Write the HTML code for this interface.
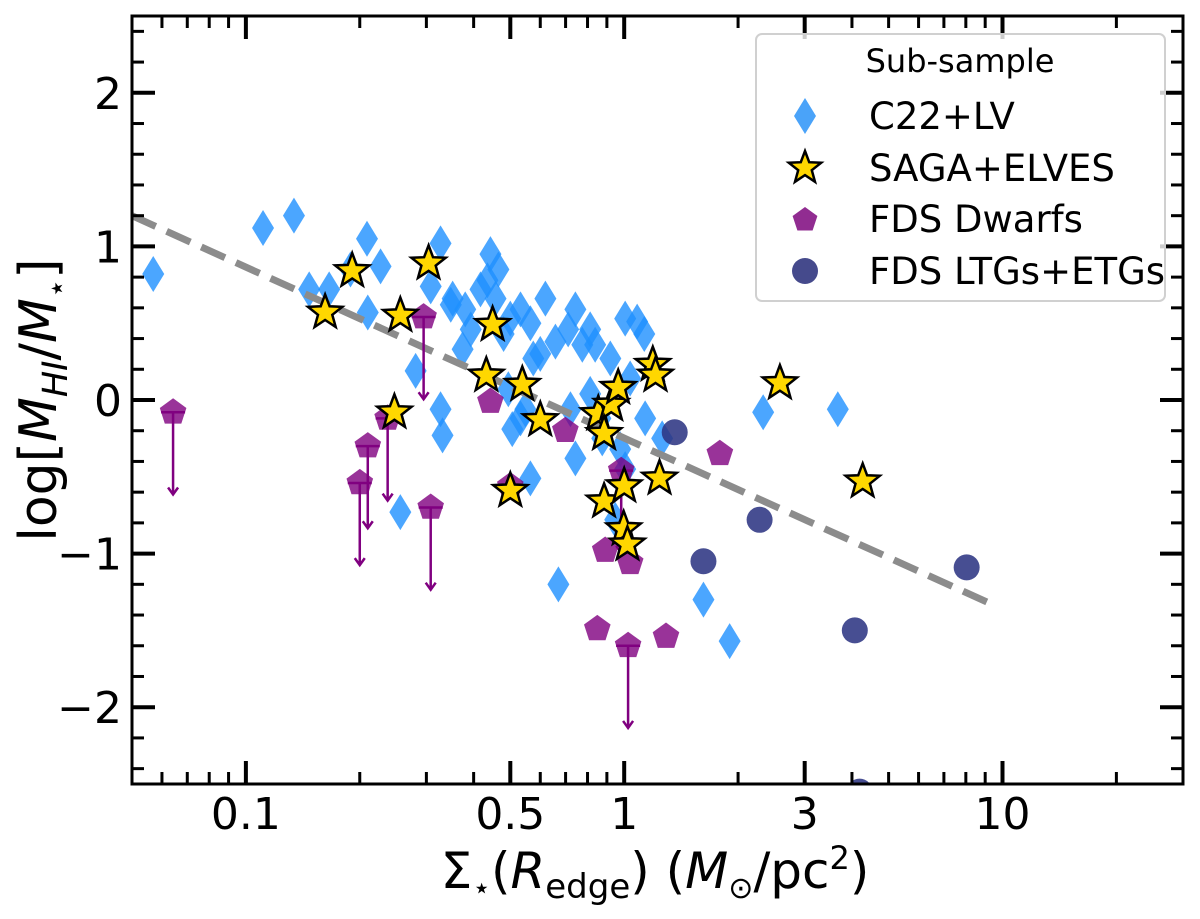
<!DOCTYPE html>
<html><head><meta charset="utf-8"><style>
html,body{margin:0;padding:0;background:#fff;}
svg{display:block;font-family:"DejaVu Sans","Liberation Sans",sans-serif;}
</style></head><body>
<svg id="chart" width="1200" height="919" viewBox="0 0 1200 919" xmlns="http://www.w3.org/2000/svg">
<defs><clipPath id="clip"><rect x="132" y="16" width="1051" height="768"/></clipPath></defs>
<g id="marks" clip-path="url(#clip)"></g>
<g id="axes"></g>
<g id="legend">
  <rect x="756" y="34" width="409" height="267" rx="6" fill="#fff" fill-opacity="0.8" stroke="#d0d0d0" stroke-width="2"/>
  <text x="960" y="72" font-size="32" text-anchor="middle">Sub-sample</text>
  <polygon points="805,98 816,116 805,134 794,116" fill="#4aa3f9"/>
  <text x="869" y="129" font-size="37">C22+LV</text>
  <polygon id="lgstar" fill="#FFD700" stroke="#000" stroke-width="2.5"/>
  <text x="869" y="181" font-size="37">SAGA+ELVES</text>
  <polygon id="lgpent" fill="#912c91"/>
  <text x="869" y="232" font-size="37">FDS Dwarfs</text>
  <circle cx="805" cy="271" r="13" fill="#454a8c"/>
  <text x="869" y="284" font-size="37">FDS LTGs+ETGs</text>
</g>
<text x="0" y="0" transform="translate(56,400) rotate(-90)" font-size="52" text-anchor="middle">log[<tspan font-style="italic">M</tspan><tspan font-size="35" dy="11" font-style="italic">HI</tspan><tspan dy="-11">/</tspan><tspan font-style="italic">M</tspan><tspan font-size="31" dy="11">⋆</tspan><tspan dy="-11">]</tspan></text>
<text x="655" y="888" font-size="50" text-anchor="middle">Σ<tspan font-size="30" dy="10">⋆</tspan><tspan dy="-10">(</tspan><tspan font-style="italic">R</tspan><tspan font-size="34" dy="10">edge</tspan><tspan dy="-10">) (</tspan><tspan font-style="italic">M</tspan><tspan font-size="30" dy="10">⊙</tspan><tspan dy="-10">/pc</tspan><tspan font-size="32" dy="-19">2</tspan><tspan dy="19">)</tspan></text>
</svg>
<script>
const diamondX=[0.0569,0.111,0.134,0.147,0.166,0.189,0.209,0.210,0.227,0.281,0.308,0.327,0.348,0.374,0.393,0.327,0.331,0.352,0.380,0.417,0.443,0.435,0.457,0.465,0.480,0.500,0.532,0.494,0.506,0.532,0.548,0.565,0.575,0.600,0.565,0.619,0.658,0.711,0.743,0.721,0.743,0.775,0.813,0.838,0.813,0.865,0.875,0.919,0.976,0.947,1.006,1.037,1.082,1.136,1.26,0.670,1.62,1.90,2.33,3.67,1.006,1.13,0.256];
const diamondY=[0.82,1.12,1.20,0.72,0.72,0.85,1.05,0.57,0.87,0.19,0.74,1.02,0.62,0.33,0.46,-0.06,-0.23,0.66,0.59,0.72,0.95,0.78,0.66,0.85,0.43,0.53,0.59,0.07,-0.19,-0.12,-0.06,-0.51,0.27,0.30,0.50,0.66,0.38,0.46,0.59,-0.06,-0.38,0.36,0.46,0.36,0.04,-0.12,-0.25,0.27,-0.32,-0.78,-0.45,0.14,0.51,-0.12,-0.25,-1.20,-1.30,-1.57,-0.08,-0.06,0.53,0.43,-0.73];
const pentX=[0.0642,0.295,0.200,0.210,0.237,0.308,0.443,0.500,0.699,0.891,0.982,1.037,1.024,1.29,0.849,1.79];
const pentY=[-0.08,0.54,-0.54,-0.30,-0.12,-0.70,-0.01,-0.56,-0.20,-0.98,-0.46,-1.06,-1.60,-1.54,-1.49,-0.35];
const pentLimit=[1,1,1,1,1,1,0,0,0,0,1,0,1,0,0,0];
const starX=[0.162,0.191,0.256,0.304,0.449,0.432,0.538,0.600,0.247,0.500,0.854,0.924,0.964,0.885,1.19,1.21,2.58,1.24,0.885,0.997,1.02,4.27,1.0];
const starY=[0.57,0.84,0.55,0.89,0.49,0.16,0.10,-0.13,-0.08,-0.59,-0.09,-0.03,0.08,-0.22,0.23,0.16,0.11,-0.51,-0.66,-0.84,-0.94,-0.53,-0.56];
const circX=[1.36,2.28,1.62,4.07,8.04,4.19];
const circY=[-0.21,-0.78,-1.05,-1.50,-1.09,-2.55];
const fitIntercept=-0.248, fitSlope=-1.113, fitRange=[0.05,9.4];
const limitLength=0.535;
const yTicks=[-2,-1,0,1,2];
const xMajor=[0.1,0.5,1,3,10];
const xMajorLabels=["0.1","0.5","1","3","10"];

const L=132,R=1183,T=16,B=784;
const xl0=Math.log10(0.05),xl1=Math.log10(30);
const X=v=>L+(Math.log10(v)-xl0)/(xl1-xl0)*(R-L);
const Y=v=>B-(v+2.5)/5*(B-T);
const NS="http://www.w3.org/2000/svg";
function mk(tag,attrs,parent){const e=document.createElementNS(NS,tag);for(const k in attrs)e.setAttribute(k,attrs[k]);parent.appendChild(e);return e;}
const marks=document.getElementById('marks'),axes=document.getElementById('axes');
function starPts(cx,cy,r){let p=[];for(let i=0;i<10;i++){const a=-Math.PI/2+i*Math.PI/5;const rr=i%2?r*0.42:r;p.push((cx+rr*Math.cos(a)).toFixed(1)+','+(cy+rr*Math.sin(a)).toFixed(1));}return p.join(' ');}
function pentPts(cx,cy,r){let p=[];for(let i=0;i<5;i++){const a=-Math.PI/2+i*2*Math.PI/5;p.push((cx+r*Math.cos(a)).toFixed(1)+','+(cy+r*Math.sin(a)).toFixed(1));}return p.join(' ');}
document.getElementById('lgstar').setAttribute('points',starPts(805,168,17));
document.getElementById('lgpent').setAttribute('points',pentPts(805,220,13));

diamondX.forEach((v,i)=>{const cx=X(v),cy=Y(diamondY[i]);
 const d=mk('polygon',{points:`${cx},${cy-18} ${cx+11},${cy} ${cx},${cy+18} ${cx-11},${cy}`,fill:'#1E90FF','fill-opacity':0.8},marks);
 
 });
const fl=mk('line',{x1:X(fitRange[0]),y1:Y(fitIntercept+fitSlope*Math.log10(fitRange[0])),x2:X(fitRange[1]),y2:Y(fitIntercept+fitSlope*Math.log10(fitRange[1])),stroke:'#8c8c8c','stroke-width':7,'stroke-dasharray':'26 12'},marks);


pentX.forEach((v,i)=>{const cx=X(v),cy=Y(pentY[i]);
 const p=mk('polygon',{points:pentPts(cx,cy,14),fill:'#800080','fill-opacity':0.8},marks);
 
 
 if(pentLimit[i]){const y2=Y(pentY[i]-limitLength);
  const g=mk('g',{stroke:'#800080','stroke-width':2.5,fill:'none'},marks);
  
  
  mk('line',{x1:cx-12,y1:cy,x2:cx+12,y2:cy},g);
  mk('line',{x1:cx,y1:cy,x2:cx,y2:y2},g);
  mk('polyline',{points:`${cx-5},${y2-7} ${cx},${y2} ${cx+5},${y2-7}`},g);}
});
starX.forEach((v,i)=>{const s=mk('polygon',{points:starPts(X(v),Y(starY[i]),18),fill:'#FFD700',stroke:'#000','stroke-width':2.5,'stroke-linejoin':'miter'},marks);
 
 });
circX.forEach((v,i)=>{const c=mk('circle',{cx:X(v),cy:Y(circY[i]),r:13,fill:'#2e3583','fill-opacity':0.88},marks);
 
 });

const fr=mk('rect',{x:L,y:T,width:R-L,height:B-T,fill:'none',stroke:'#000','stroke-width':3},axes);


for(let k=-12;k<=12;k++){const v=k/5,y=Y(v),maj=k%5===0,len=maj?23:12,w=maj?4:3;
 mk('line',{x1:L,y1:y,x2:L+len,y2:y,stroke:'#000','stroke-width':w},axes);
 mk('line',{x1:R,y1:y,x2:R-len,y2:y,stroke:'#000','stroke-width':w},axes);}
yTicks.forEach(v=>{const t=mk('text',{x:122,y:Y(v)+16,'font-size':44,'text-anchor':'end'},axes);t.textContent=v<0?'\u2212'+Math.abs(v):String(v);
 
 });
const minors=[];for(const d of [0.01,0.1,1,10])for(let m=1;m<10;m++){const v=m*d;if(v>=0.05&&v<=30)minors.push(v);}
minors.forEach(v=>{const maj=xMajor.some(m=>Math.abs(m-v)<1e-9),len=maj?23:12,w=maj?4:3,x=X(v);
 mk('line',{x1:x,y1:B,x2:x,y2:B-len,stroke:'#000','stroke-width':w},axes);
 mk('line',{x1:x,y1:T,x2:x,y2:T+len,stroke:'#000','stroke-width':w},axes);});
xMajor.forEach((v,i)=>{const t=mk('text',{x:X(v),y:829,'font-size':44,'text-anchor':'middle'},axes);t.textContent=xMajorLabels[i];
 
 });
</script>
</body></html>
